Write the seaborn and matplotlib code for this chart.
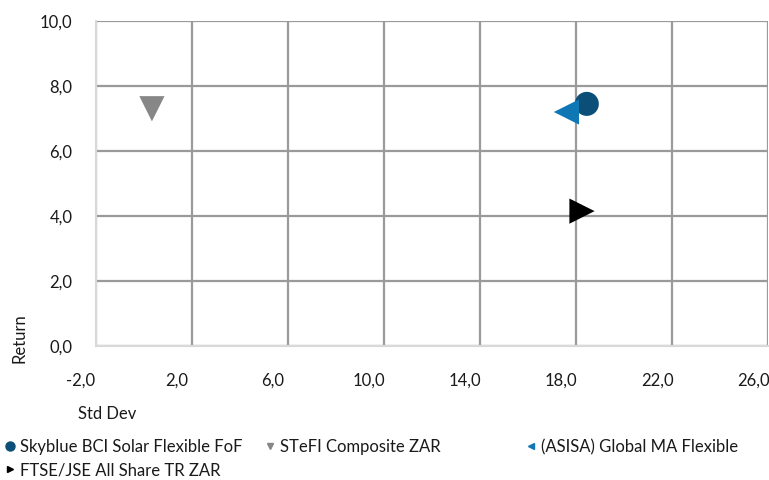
import matplotlib
matplotlib.use("Agg")
import matplotlib.pyplot as plt
import matplotlib.transforms as mtransforms
from matplotlib.lines import Line2D
import seaborn as sns
import pandas as pd

series = ["Skyblue BCI Solar Flexible FoF", "STeFI Composite ZAR",
          "(ASISA) Global MA Flexible", "FTSE/JSE All Share TR ZAR"]
std_dev = [18.45, 0.33, 17.6, 18.25]
returns = [7.45, 7.3, 7.2, 4.15]
markers = ["o", "v", "<", ">"]
colors = ["#0B4F78", "#878787", "#0F78B4", "#000000"]
x_ticks = [-2, 2, 6, 10, 14, 18, 22, 26]
y_ticks = [0, 2, 4, 6, 8, 10]

df = pd.DataFrame({"series": series, "std": std_dev, "ret": returns})

sns.set_theme(style="white")
plt.rcParams["font.family"] = ["Lato", "DejaVu Sans"]

fig = plt.figure(figsize=(7.69, 4.8), dpi=100)
ax = fig.add_axes([96 / 769, 1 - 346 / 480, 672 / 769, 325 / 480])

for i, s in enumerate(series):
    sns.scatterplot(data=df[df["series"] == s], x="std", y="ret", marker=markers[i],
                    color=colors[i], s=300 if markers[i] == "o" else 330,
                    edgecolor="none", linewidth=0, ax=ax, zorder=5, legend=False)

ax.set_xlim(-2, 26)
ax.set_ylim(0, 10)
ax.set_xticks(x_ticks)
ax.set_yticks(y_ticks)
ax.set_xticklabels([f"{v:.1f}".replace(".", ",") for v in x_ticks])
ax.set_yticklabels([f"{v:.1f}".replace(".", ",") for v in y_ticks])
ax.grid(True, color="#9a9a9a", linewidth=1.6)
ax.set_axisbelow(True)
for side in ["top", "right"]:
    ax.spines[side].set_visible(False)
for side in ["left", "bottom"]:
    ax.spines[side].set_color("#d9d9d9")
    ax.spines[side].set_linewidth(1.5)
    ax.spines[side].set_zorder(3)
ax.tick_params(axis="both", which="major", length=10, width=1.5, color="#d9d9d9",
               labelsize=12, labelcolor="#1a1a1a", direction="out")
ax.tick_params(axis="x", pad=9)
ax.tick_params(axis="y", pad=7)
ax.set_xlabel("")
ax.set_ylabel("")
offset = mtransforms.ScaledTranslation(-15 / 100, 0, fig.dpi_scale_trans)
for lab in ax.get_xticklabels():
    lab.set_transform(lab.get_transform() + offset)

fig.text(19 / 769, 1 - 338 / 480, "Return", rotation=90, ha="center", va="center",
         fontsize=12, color="#1a1a1a")
fig.text(78 / 769, 1 - 414 / 480, "Std Dev", ha="left", va="center",
         fontsize=12, color="#1a1a1a")

positions = [(5, 447), (265, 447), (526, 447), (5, 470)]
for i, s in enumerate(series):
    h = Line2D([], [], linestyle="none", marker=markers[i], color=colors[i],
               markersize=6.5 if markers[i] == "o" else 5)
    leg = fig.legend(handles=[h], labels=[s], loc="center left",
                     bbox_to_anchor=(positions[i][0] / 769, 1 - positions[i][1] / 480),
                     frameon=False, fontsize=12, handlelength=0.6, handletextpad=0.3,
                     borderpad=0, borderaxespad=0)
    for t in leg.get_texts():
        t.set_color("#1a1a1a")

fig.savefig("out.png", dpi=100)
